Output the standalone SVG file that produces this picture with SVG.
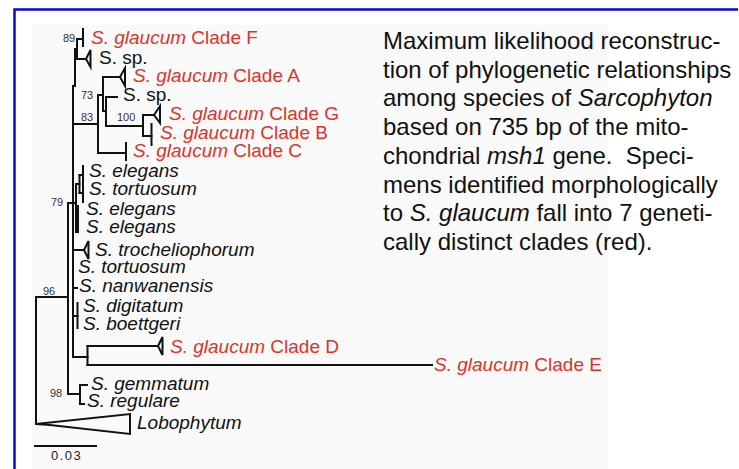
<svg xmlns="http://www.w3.org/2000/svg" width="739" height="469" viewBox="0 0 739 469">
<style>
.ln{fill:none;stroke:#111;stroke-width:2;stroke-linejoin:miter;stroke-linecap:square}
.tri{fill:none;stroke:#111;stroke-width:2;stroke-linejoin:miter}
.lab{font-family:"Liberation Sans",Arial,sans-serif;font-size:19px}
.red{fill:#d8352a}
.blk{fill:#111;font-style:italic}
.sp{fill:#111}
.bs{font-family:"Liberation Sans",Arial,sans-serif;font-size:11px;fill:#333}
.cap{font-family:"Liberation Sans",Arial,sans-serif;font-size:24px;fill:#111}
</style>
<rect x="0" y="0" width="739" height="469" fill="#ffffff"/>
<rect x="32" y="25" width="576" height="444" fill="#f9f9f9"/>
<path d="M14.5,469 V9.5 H738" fill="none" stroke="#0a0acc" stroke-width="2.5"/>

<g id="connectors">
  <!-- root -->
  <path class="ln" d="M36,297 V424"/>
  <path class="ln" d="M36,297 H68"/>
  <!-- ingroup node 96 -->
  <path class="ln" d="M68,203 V394"/>
  <!-- node 79 backbone -->
  <path class="ln" d="M68,203 H73"/>
  <path class="ln" d="M73,86 V357"/>
  <path class="ln" d="M73,86 H75 V49 H77"/>
  <!-- node 89 -->
  <path class="ln" d="M77,39 V59"/>
  <path class="ln" d="M77,39 H83"/>
  <path class="ln" d="M83,29 V46"/>
  <path class="ln" d="M77,59 H86"/>
  <!-- node 83 -->
  <path class="ln" d="M73,124 H98"/>
  <path class="ln" d="M98,95 V153"/>
  <path class="ln" d="M98,95 H103"/>
  <path class="ln" d="M103,77 V111"/>
  <path class="ln" d="M103,77 H120"/>
  <path class="ln" d="M103,111 H106"/>
  <path class="ln" d="M106,97 V126"/>
  <path class="ln" d="M106,97 H117"/>
  <path class="ln" d="M106,126 H143"/>
  <path class="ln" d="M143,115 V136"/>
  <path class="ln" d="M143,115 H154"/>
  <path class="ln" d="M143,136 H151.5"/>
  <path class="ln" d="M151.5,124 V145"/>
  <path class="ln" d="M98,153 H126"/>
  <path class="ln" d="M126,143 V160"/>
  <!-- elegans / tortuosum -->
  <path class="ln" d="M73,203 H76"/>
  <path class="ln" d="M76,184 V232"/>
  <path class="ln" d="M76,184 H79.5"/>
  <path class="ln" d="M79.5,175 V193"/>
  <path class="ln" d="M79.5,175 H83"/>
  <path class="ln" d="M79.5,193 H83"/>
  <path class="ln" d="M83,166 V202"/>
  <path class="ln" d="M78,206 V232"/>
  <!-- trocheliophorum -->
  <path class="ln" d="M73,250 H84"/>
  <!-- nanwanensis -->
  <path class="ln" d="M73,288 H77"/>
  <!-- digitatum / boettgeri -->
  <path class="ln" d="M73,316 H77.5"/>
  <path class="ln" d="M77.5,303 V328"/>
  <!-- D / E -->
  <path class="ln" d="M73,357 H87.5"/>
  <path class="ln" d="M87.5,346 V365"/>
  <path class="ln" d="M87.5,346 H158"/>
  <path class="ln" d="M87.5,365 H432"/>
  <!-- node 98 -->
  <path class="ln" d="M68,394 H80"/>
  <path class="ln" d="M80,385 V404"/>
  <path class="ln" d="M80,385 H87"/>
  <path class="ln" d="M80,404 H84"/>
  <!-- scale bar -->
  <path class="ln" d="M35,446 H96" stroke-linecap="butt"/>
</g>

<g id="bootstrap">
  <text class="bs" x="63" y="42">89</text>
  <text class="bs" x="81" y="99">73</text>
  <text class="bs" x="81" y="121">83</text>
  <text class="bs" x="117" y="121">100</text>
  <text class="bs" x="51" y="206">79</text>
  <text class="bs" x="43" y="295">96</text>
  <text class="bs" x="50" y="397">98</text>
</g>

<g id="clade-F"><text class="lab red" x="91" y="44"><tspan font-style="italic">S. glaucum</tspan> Clade F</text></g>
<g id="sp-1"><polygon class="tri" points="86,59 90.5,50 90.5,67"/><text class="lab sp" x="99" y="64">S. sp.</text></g>
<g id="clade-A"><polygon class="tri" points="120,77 125,68 125,86"/><text class="lab red" x="133" y="82"><tspan font-style="italic">S. glaucum</tspan> Clade A</text></g>
<g id="sp-2"><text class="lab sp" x="123" y="101">S. sp.</text></g>
<g id="clade-G"><polygon class="tri" points="154,115 160,106 160,123"/><text class="lab red" x="169" y="120"><tspan font-style="italic">S. glaucum</tspan> Clade G</text></g>
<g id="clade-B"><text class="lab red" x="160" y="139"><tspan font-style="italic">S. glaucum</tspan> Clade B</text></g>
<g id="clade-C"><text class="lab red" x="133" y="157"><tspan font-style="italic">S. glaucum</tspan> Clade C</text></g>
<g id="elegans-1"><text class="lab blk" x="89" y="177">S. elegans</text></g>
<g id="tortuosum-1"><text class="lab blk" x="89" y="195">S. tortuosum</text></g>
<g id="elegans-2"><text class="lab blk" x="86" y="215">S. elegans</text></g>
<g id="elegans-3"><text class="lab blk" x="86" y="233">S. elegans</text></g>
<g id="trocheliophorum"><polygon class="tri" points="84,250 88.5,241 88.5,259"/><text class="lab blk" x="95" y="256">S. trocheliophorum</text></g>
<g id="tortuosum-2"><text class="lab blk" x="78" y="273">S. tortuosum</text></g>
<g id="nanwanensis"><text class="lab blk" x="79" y="292">S. nanwanensis</text></g>
<g id="digitatum"><text class="lab blk" x="83" y="312">S. digitatum</text></g>
<g id="boettgeri"><text class="lab blk" x="83" y="330">S. boettgeri</text></g>
<g id="clade-D"><polygon class="tri" points="158,346 162.5,337 162.5,355"/><text class="lab red" x="170" y="353"><tspan font-style="italic">S. glaucum</tspan> Clade D</text></g>
<g id="clade-E"><text class="lab red" x="434" y="371"><tspan font-style="italic">S. glaucum</tspan> Clade E</text></g>
<g id="gemmatum"><text class="lab blk" x="91" y="390">S. gemmatum</text></g>
<g id="regulare"><text class="lab blk" x="87" y="407">S. regulare</text></g>
<g id="lobophytum"><polygon class="tri" points="36,424 130,414 130,434 50,425" stroke-width="1.8"/><text class="lab blk" x="137" y="429">Lobophytum</text></g>
<g id="scale"><text x="51" y="460" font-family="'Liberation Sans',Arial,sans-serif" font-size="13" letter-spacing="1.5" fill="#222">0.03</text></g>

<g id="caption">
  <text class="cap" x="383" y="49">Maximum likelihood reconstruc-</text>
  <text class="cap" x="383" y="77.7">tion of phylogenetic relationships</text>
  <text class="cap" x="383" y="106.4">among species of <tspan font-style="italic">Sarcophyton</tspan></text>
  <text class="cap" x="383" y="135">based on 735 bp of the mito-</text>
  <text class="cap" x="383" y="163.8">chondrial <tspan font-style="italic">msh1</tspan> gene.&#160; Speci-</text>
  <text class="cap" x="383" y="192.5">mens identified morphologically</text>
  <text class="cap" x="383" y="221.2">to <tspan font-style="italic">S. glaucum</tspan> fall into 7 geneti-</text>
  <text class="cap" x="383" y="250">cally distinct clades (red).</text>
</g>
</svg>
